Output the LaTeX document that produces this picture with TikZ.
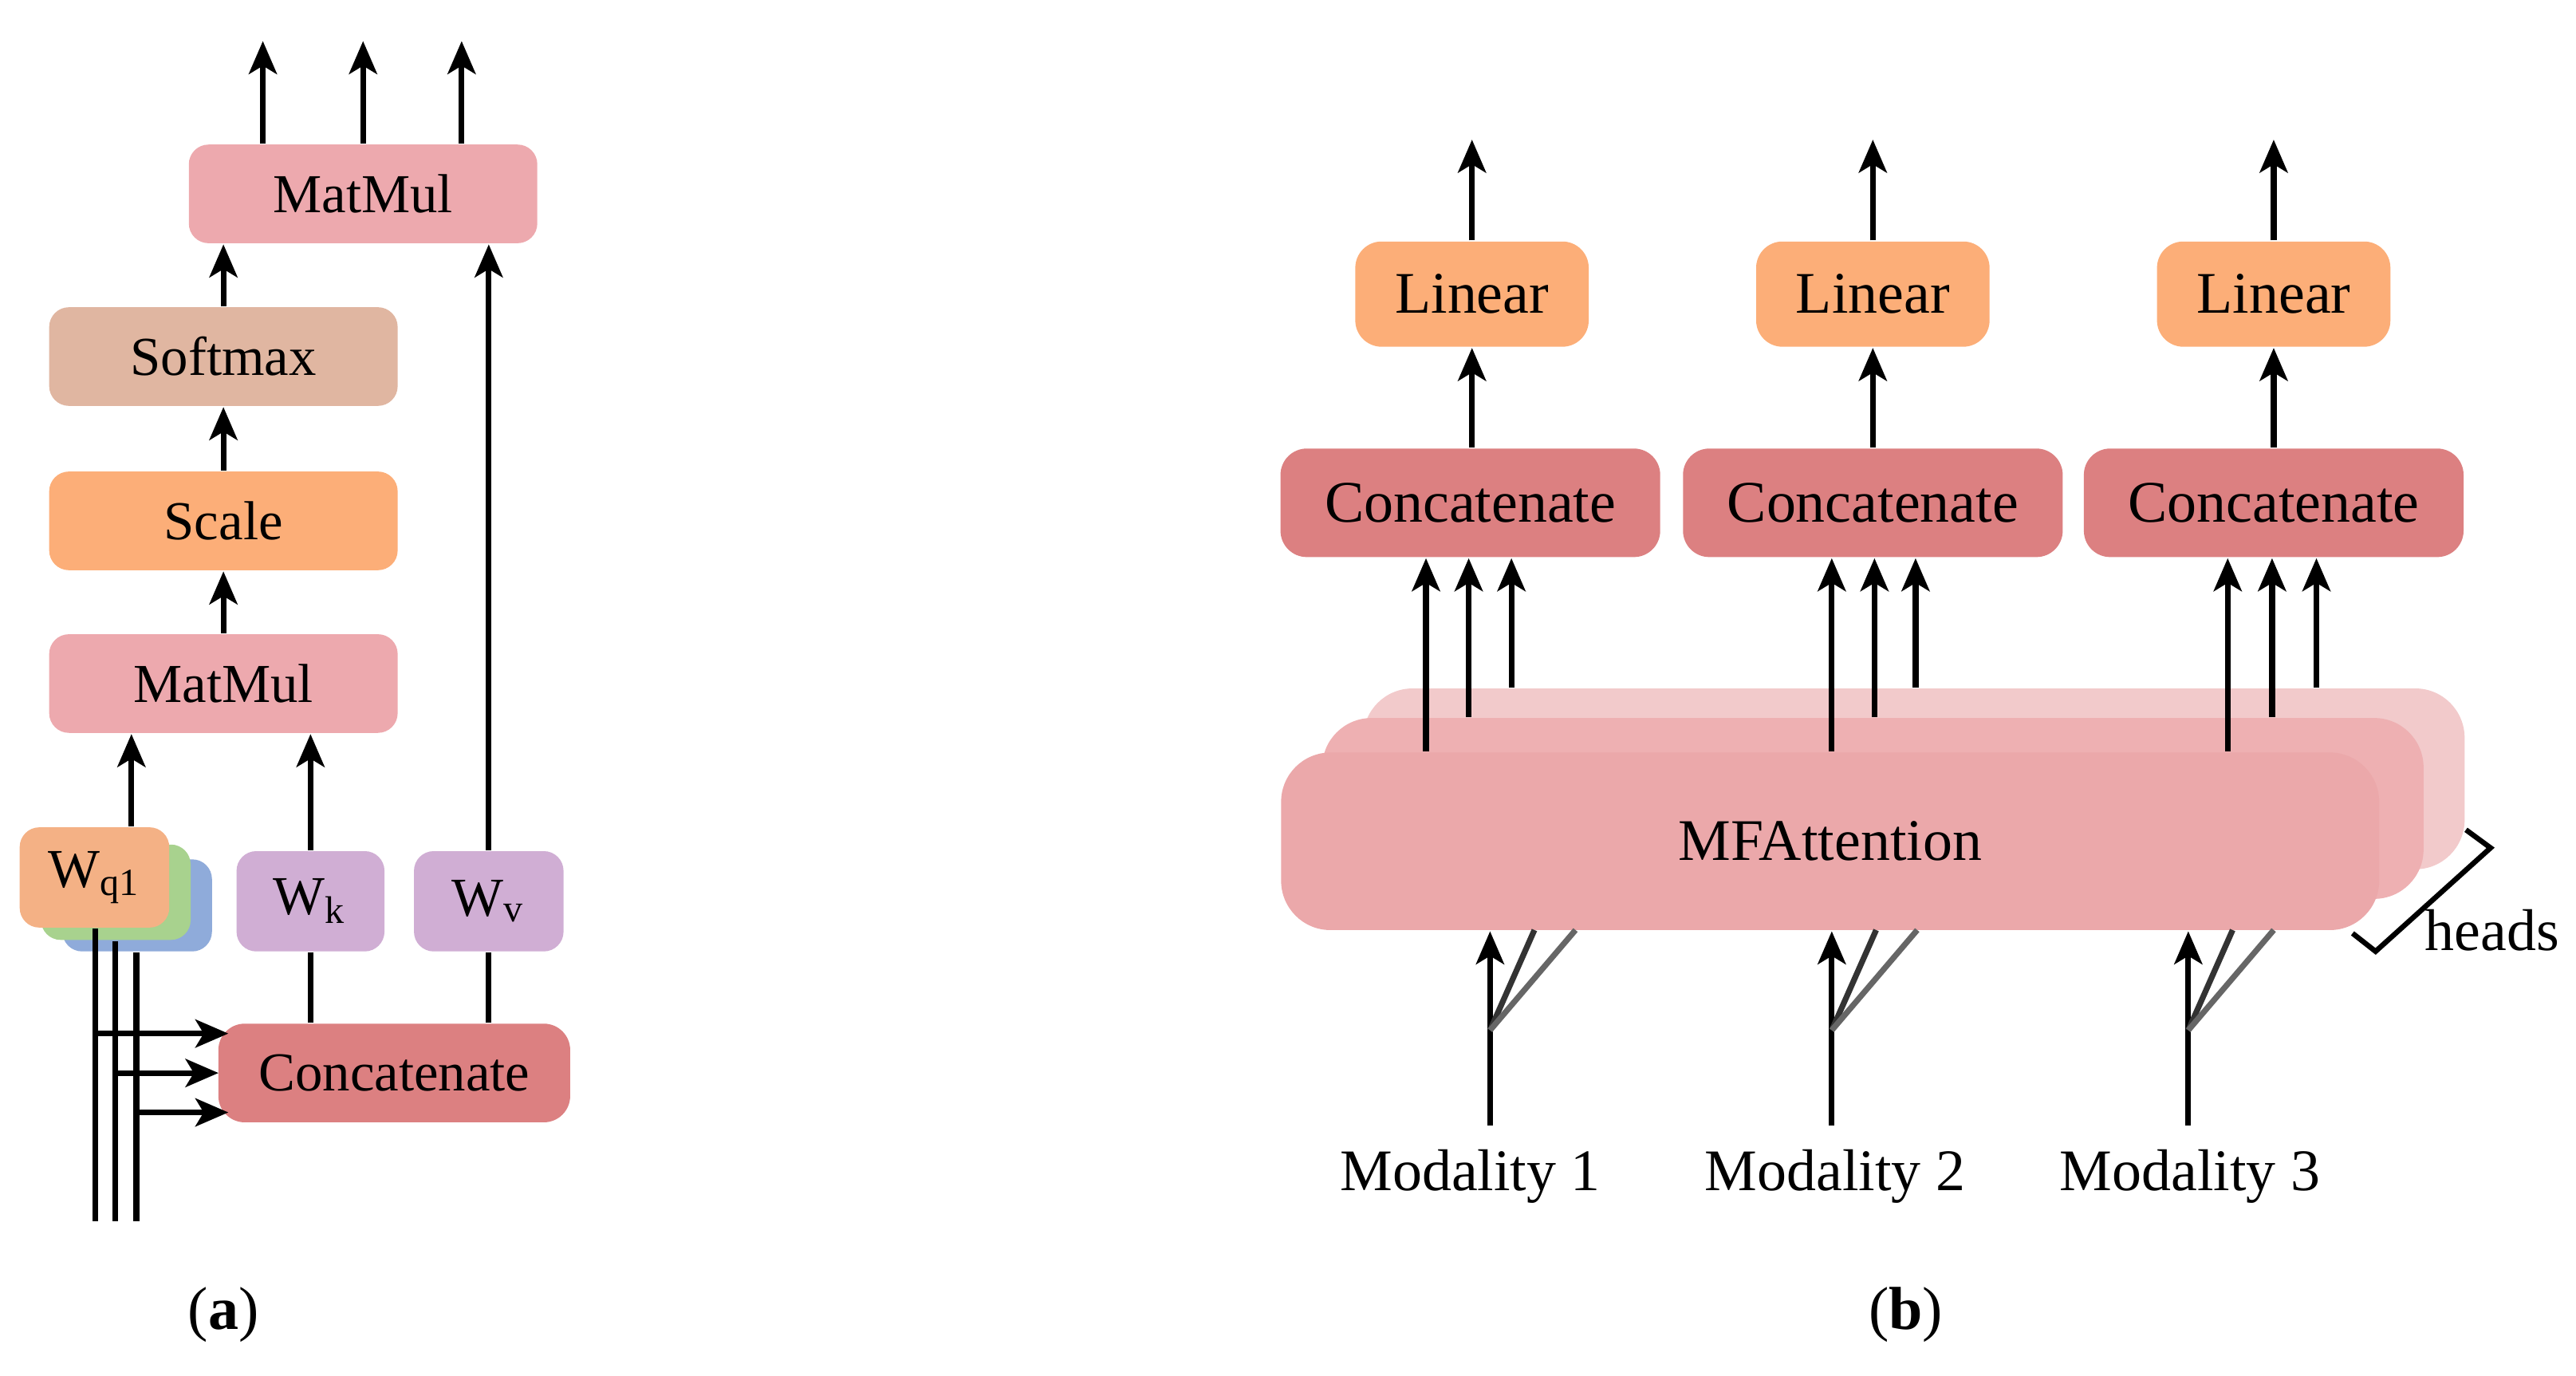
\documentclass[tikz,border=0pt]{standalone}
\usepackage{fontspec}
\setmainfont{Liberation Serif}
\usetikzlibrary{arrows.meta,calc}
\definecolor{cmat}{HTML}{EDA9AE}
\definecolor{csoft}{HTML}{E0B6A1}
\definecolor{cscale}{HTML}{FCAE78}
\definecolor{cwq}{HTML}{F4B185}
\definecolor{cgreen}{HTML}{A8D28E}
\definecolor{cblue}{HTML}{8FABDA}
\definecolor{cwk}{HTML}{D0AED4}
\definecolor{ccat}{HTML}{DC8081}
\definecolor{cmf1}{HTML}{EBA8AA}
\definecolor{cmf2}{HTML}{EEB0B2}
\definecolor{cmf3}{HTML}{F2CACB}
\tikzset{
  box/.style={draw=none,rounded corners=0.12cm,inner sep=0pt,align=center},
  bxa/.style={box,font=\fontsize{9.5}{11}\selectfont},
  bxb/.style={box,rounded corners=0.16cm,font=\fontsize{10.2}{12}\selectfont},
  arr/.style={line width=1pt,-{Stealth[length=0.2cm,width=0.17cm,inset=0.05cm]}},
  ln/.style={line width=1pt},
}
\begin{document}
\begin{tikzpicture}[x=0.01cm,y=-0.01cm]
\useasboundingbox (0,0) rectangle (1568,837);
% ---------- (a)
\node[bxa,fill=cmat,minimum width=2.12cm,minimum height=0.6cm] (mmt) at (221,118) {MatMul};
\node[bxa,fill=csoft,minimum width=2.12cm,minimum height=0.6cm] (soft) at (136,217) {Softmax};
\node[bxa,fill=cscale,minimum width=2.12cm,minimum height=0.6cm] (scale) at (136,317) {Scale};
\node[bxa,fill=cmat,minimum width=2.12cm,minimum height=0.6cm] (mmb) at (136,416) {MatMul};
\node[bxa,fill=cblue,minimum width=0.91cm,minimum height=0.56cm] (wq3) at (83.5,551) {};
\node[bxa,fill=cgreen,minimum width=0.91cm,minimum height=0.58cm] (wq2) at (70.5,543) {};
\node[bxa,fill=cwq,minimum width=0.91cm,minimum height=0.61cm] (wq) at (57.5,534) {W\textsubscript{q1}};
\node[bxa,fill=cwk,minimum width=0.9cm,minimum height=0.61cm] (wk) at (189,548.5) {W\textsubscript{k}};
\node[bxa,fill=cwk,minimum width=0.91cm,minimum height=0.61cm] (wv) at (297.5,548.5) {W\textsubscript{v}};
\node[bxa,fill=ccat,rounded corners=0.16cm,minimum width=2.14cm,minimum height=0.6cm] (cata) at (240,653) {Concatenate};
\foreach \x/\n in {160/1,221/2,281/3}{
  \coordinate (ta\n) at (\x,25);
  \draw[arr] (mmt.north -| ta\n) -- (ta\n);
}
\draw[arr] (soft.north) -- (soft.north |- mmt.south);
\draw[arr] (scale) -- (soft);
\draw[arr] (mmb) -- (scale);
\coordinate (qx) at (80,0);
\draw[arr] (wq.north -| qx) -- (mmb.south -| qx);
\draw[arr] (wk) -- (wk |- mmb.south);
\draw[arr] (wv) -- (wv |- mmt.south);
\draw[ln] (wk) -- (wk |- cata.north);
\draw[ln] (wv) -- (wv |- cata.north);
\foreach \src/\x/\y/\xe in {wq/58/629/139,wq2/70/653/133,wq3/83/677/139}{
  \coordinate (b\src) at (\x,743);
  \coordinate (e\src) at (\xe,\y);
  \draw[ln] (\src.south -| b\src) -- (b\src);
  \draw[arr] (\x,\y) -- (e\src);
}
\node[font=\fontsize{10.5}{12}\selectfont] (la) at (136,800) {(\textbf{a})};
% ---------- (b)
\node[bxb,fill=cmf3,rounded corners=0.3cm,minimum width=6.7cm,minimum height=1.1cm] (mf3) at (1165,474) {};
\node[bxb,fill=cmf2,rounded corners=0.3cm,minimum width=6.7cm,minimum height=1.1cm] (mf2) at (1140,492) {};
\node[bxb,fill=cmf1,rounded corners=0.3cm,minimum width=6.68cm,minimum height=1.08cm] (mf) at (1114,512) {MFAttention};
\foreach \i/\cx/\lx in {1/895/896,2/1140/1140,3/1384/1384}{
  \node[bxb,fill=cscale,minimum width=1.42cm,minimum height=0.64cm] (lin\i) at (\lx,179) {Linear};
  \node[bxb,fill=ccat,minimum width=2.31cm,minimum height=0.66cm] (cat\i) at (\cx,306) {Concatenate};
  \coordinate (to\i) at (\lx,85);
  \draw[arr] (lin\i) -- (to\i);
  \draw[arr] (cat\i.north -| lin\i) -- (lin\i);
}
\foreach \i/\a/\b/\c in {1/868/894/920,2/1115/1141/1166,3/1356/1383/1410}{
  \coordinate (xa\i) at (\a,0); \coordinate (xb\i) at (\b,0); \coordinate (xc\i) at (\c,0);
  \draw[arr] (mf.north -| xa\i) -- (cat\i.south -| xa\i);
  \draw[arr] (mf2.north -| xb\i) -- (cat\i.south -| xb\i);
  \draw[arr] (mf3.north -| xc\i) -- (cat\i.south -| xc\i);
}
\foreach \i/\x/\mx in {1/907/895,2/1115/1117,3/1332/1333}{
  \node[font=\fontsize{10.2}{12}\selectfont] (mod\i) at (\mx,716) {Modality \i};
  \coordinate (s\i) at (\x,685);
  \coordinate (k\i) at (\x,627);
  \coordinate (d\i) at (\x+27,566);
  \coordinate (g\i) at (\x+52,566);
  \draw[arr] (s\i) -- (mf.south -| s\i);
  \draw[line width=1pt,black!80] (k\i) -- (d\i);
  \draw[line width=1pt,black!60] (k\i) -- (g\i);
}
\coordinate (h1) at (1501,505);
\coordinate (h2) at (1516,516);
\coordinate (h3) at (1446,579);
\coordinate (h4) at (1432,568);
\draw[line width=0.9pt] (h1) -- (h2) -- (h3) -- (h4);
\node[font=\fontsize{10.2}{12}\selectfont] (heads) at (1517,566) {heads};
\node[font=\fontsize{10.5}{12}\selectfont] (lb) at (1160,800) {(\textbf{b})};
\end{tikzpicture}
\end{document}
